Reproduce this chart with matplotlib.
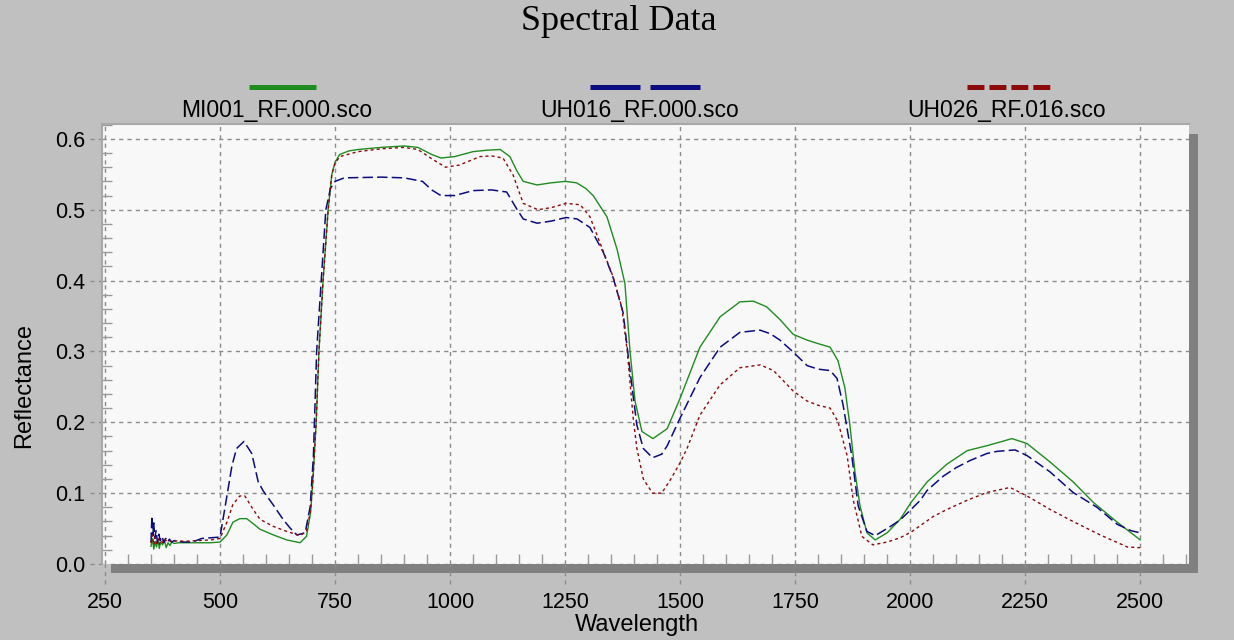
import numpy as np
import matplotlib.pyplot as plt
from matplotlib.lines import Line2D
from matplotlib.patches import Rectangle
from matplotlib.ticker import MultipleLocator

plt.rcParams['font.family'] = ['Liberation Sans', 'DejaVu Sans']
plt.rcParams['lines.scale_dashes'] = False

title = "Spectral Data"
series_names = ["MI001_RF.000.sco", "UH016_RF.000.sco", "UH026_RF.016.sco"]
x_ticks = [250, 500, 750, 1000, 1250, 1500, 1750, 2000, 2250, 2500]
y_ticks = [0.0, 0.1, 0.2, 0.3, 0.4, 0.5, 0.6]

# MI001 (green, solid)
mi001_wl = [350, 353, 356, 359, 362, 365, 368, 371, 375, 379, 383, 387, 391, 395, 400, 410,
            420, 450, 480, 500, 515, 528, 543, 558, 572, 587, 616, 645, 674, 688, 697,
            702, 709, 715, 724, 735, 743, 750, 760, 780, 800, 850, 900, 930, 960, 980,
            1010, 1050, 1080, 1109, 1130, 1145, 1159, 1189, 1220, 1250, 1275, 1295, 1311,
            1341, 1363, 1380, 1391, 1402, 1417, 1441, 1472, 1500, 1543, 1587, 1630, 1659,
            1688, 1717, 1746, 1776, 1800, 1826, 1843, 1858, 1869, 1880, 1891, 1906, 1924,
            1950, 1978, 2002, 2037, 2080, 2124, 2167, 2200, 2221, 2254, 2304, 2354, 2398,
            2450, 2500]
mi001_refl = [0.025, 0.036, 0.021, 0.032, 0.024, 0.035, 0.022, 0.031, 0.027, 0.034, 0.023,
              0.030, 0.026, 0.031, 0.029, 0.030, 0.030, 0.030, 0.030, 0.031, 0.041, 0.059,
              0.064, 0.064, 0.057, 0.049, 0.041, 0.034, 0.030, 0.039, 0.073, 0.12, 0.20,
              0.30, 0.40, 0.50, 0.55, 0.567, 0.578, 0.583, 0.585, 0.588, 0.590, 0.588,
              0.578, 0.573, 0.575, 0.582, 0.584, 0.585, 0.575, 0.555, 0.540, 0.535, 0.538,
              0.540, 0.538, 0.530, 0.520, 0.490, 0.444, 0.396, 0.301, 0.230, 0.187, 0.177,
              0.191, 0.234, 0.306, 0.349, 0.370, 0.371, 0.363, 0.345, 0.324, 0.316, 0.311,
              0.306, 0.287, 0.249, 0.196, 0.130, 0.082, 0.044, 0.034, 0.044, 0.063, 0.087,
              0.116, 0.141, 0.160, 0.167, 0.173, 0.177, 0.170, 0.144, 0.116, 0.087, 0.059,
              0.034]

# UH016 (navy, long dashes)
uh016_wl = [350, 352, 354, 356, 358, 361, 364, 367, 370, 374, 378, 382, 386, 390, 395, 400,
            410, 420, 440, 460, 480, 500, 515, 526, 536, 552, 569, 583, 594, 615, 637, 652,
            667, 685, 696, 703, 710, 720, 730, 740, 750, 770, 850, 900, 940, 960, 980, 1010,
            1050, 1090, 1123, 1145, 1159, 1189, 1220, 1252, 1276, 1304, 1333, 1354, 1376,
            1391, 1406, 1420, 1440, 1460, 1472, 1500, 1543, 1587, 1630, 1674, 1696, 1717,
            1746, 1776, 1800, 1826, 1841, 1854, 1873, 1887, 1906, 1924, 1957, 1978, 2002,
            2022, 2037, 2072, 2100, 2130, 2167, 2189, 2228, 2254, 2304, 2354, 2406, 2450,
            2480, 2500]
uh016_refl = [0.030, 0.068, 0.040, 0.058, 0.036, 0.047, 0.030, 0.042, 0.033, 0.039, 0.030,
              0.036, 0.031, 0.035, 0.031, 0.033, 0.032, 0.031, 0.031, 0.036, 0.037, 0.038,
              0.096, 0.139, 0.163, 0.173, 0.156, 0.116, 0.103, 0.084, 0.063, 0.051, 0.041,
              0.044, 0.081, 0.153, 0.300, 0.400, 0.500, 0.530, 0.540, 0.545, 0.546, 0.545,
              0.540, 0.528, 0.520, 0.520, 0.527, 0.528, 0.525, 0.501, 0.487, 0.481, 0.484,
              0.489, 0.487, 0.475, 0.440, 0.405, 0.355, 0.273, 0.196, 0.163, 0.150, 0.155,
              0.167, 0.206, 0.263, 0.306, 0.327, 0.330, 0.325, 0.316, 0.299, 0.280, 0.275,
              0.273, 0.262, 0.225, 0.153, 0.082, 0.046, 0.040, 0.053, 0.062, 0.077, 0.090,
              0.104, 0.124, 0.136, 0.146, 0.156, 0.159, 0.161, 0.153, 0.130, 0.101, 0.080,
              0.056, 0.047, 0.044]

# UH026 (dark red, short dashes)
uh026_wl = [350, 353, 356, 359, 362, 365, 368, 372, 376, 380, 385, 390, 395, 400, 410, 420,
            450, 480, 500, 515, 528, 543, 554, 572, 587, 616, 645, 674, 688, 697, 702, 709,
            715, 724, 735, 743, 750, 760, 800, 850, 900, 930, 960, 990, 1020, 1065, 1090,
            1115, 1137, 1159, 1191, 1220, 1252, 1283, 1304, 1326, 1354, 1373, 1385, 1398,
            1406, 1420, 1440, 1460, 1480, 1500, 1515, 1543, 1587, 1630, 1674, 1703, 1746,
            1776, 1800, 1826, 1843, 1863, 1876, 1895, 1919, 1950, 1978, 2002, 2050, 2080,
            2124, 2167, 2217, 2254, 2304, 2354, 2413, 2472, 2500]
uh026_refl = [0.030, 0.041, 0.027, 0.038, 0.029, 0.036, 0.028, 0.034, 0.030, 0.035, 0.031,
              0.033, 0.031, 0.032, 0.033, 0.032, 0.033, 0.034, 0.036, 0.059, 0.084, 0.096,
              0.096, 0.077, 0.063, 0.053, 0.046, 0.040, 0.046, 0.077, 0.12, 0.20, 0.30,
              0.40, 0.50, 0.55, 0.565, 0.575, 0.582, 0.586, 0.588, 0.585, 0.572, 0.560,
              0.563, 0.575, 0.576, 0.573, 0.549, 0.509, 0.500, 0.503, 0.509, 0.507, 0.490,
              0.453, 0.406, 0.363, 0.301, 0.206, 0.163, 0.120, 0.100, 0.100, 0.120, 0.143,
              0.163, 0.210, 0.253, 0.277, 0.281, 0.273, 0.244, 0.230, 0.224, 0.220, 0.201,
              0.153, 0.091, 0.039, 0.027, 0.031, 0.037, 0.045, 0.067, 0.077, 0.090, 0.101,
              0.108, 0.096, 0.077, 0.060, 0.041, 0.024, 0.023]

GREEN = '#1f8c1f'
NAVY = '#0c0c80'
RED = '#8c0a0a'

W, H = 1234, 640
fig = plt.figure(figsize=(W / 100, H / 100), dpi=100, facecolor='#c0c0c0')

def fx(px):
    return px / W

def fy(py):
    return 1 - py / H

# drop shadow behind the plot area
fig.add_artist(Rectangle((fx(111), fy(573)), fx(1198 - 111), (573 - 134) / H,
                         transform=fig.transFigure, facecolor='#808080',
                         edgecolor='none', zorder=0))

ax = fig.add_axes([fx(102), fy(564), fx(1189 - 102), (564 - 124) / H], zorder=1)
ax.set_facecolor('#f8f8f8')
ax.set_xlim(243.5, 2606)
ax.set_ylim(0, 0.621)

ax.plot(mi001_wl, mi001_refl, color=GREEN, lw=1.0, zorder=3)
ax.plot(uh016_wl, uh016_refl, color=NAVY, lw=1.1, dashes=(7.5, 3), zorder=3)
ax.plot(uh026_wl, uh026_refl, color=RED, lw=1.0, dashes=(2.2, 2.2), zorder=3)

ax.set_xticks(x_ticks)
ax.set_yticks(y_ticks)
ax.set_yticklabels([f"{v:.1f}" for v in y_ticks])
ax.xaxis.set_minor_locator(MultipleLocator(50))
ax.yaxis.set_minor_locator(MultipleLocator(0.02))
ax.tick_params(which='major', length=0, labelsize=15.5, colors='black')
ax.tick_params(axis='x', which='major', pad=20)
ax.tick_params(axis='y', which='major', pad=12)
ax.tick_params(which='minor', direction='in', length=7, width=1, color='#9a9a9a')
ax.grid(which='major', color='#8c8c8c', linestyle=(0, (3, 3)), linewidth=1)

for side in ['right', 'bottom']:
    ax.spines[side].set_visible(False)
for side in ['left', 'top']:
    ax.spines[side].set_color('#a8a8a8')
    ax.spines[side].set_linewidth(1.5)

# dashed tick extensions outside the plot
for t in x_ticks:
    ax.add_line(Line2D([t, t], [-0.045, 0], transform=ax.get_xaxis_transform(),
                       color='#8c8c8c', lw=1, linestyle=(0, (3, 3)), clip_on=False))
for t in y_ticks:
    ax.add_line(Line2D([-0.011, 0], [t, t], transform=ax.get_yaxis_transform(),
                       color='#8c8c8c', lw=1, linestyle=(0, (3, 3)), clip_on=False))

fig.text(fx(619), fy(22), title, family='Liberation Serif', fontsize=26,
         ha='center', va='center')
fig.text(fx(637), fy(625), "Wavelength", fontsize=17, ha='center', va='center')
fig.text(fx(24), fy(385), "Reflectance", fontsize=17, rotation=90,
         ha='center', va='center')

# legend: swatch above each label
legend_specs = [
    (series_names[0], GREEN, 249, 316, None, 277),
    (series_names[1], NAVY, 590, 700, (36, 7.2), 640),
    (series_names[2], RED, 967, 1050, (12.2, 3.6), 1007),
]
for name, color, x0, x1, dash, label_x in legend_specs:
    ln = Line2D([fx(x0), fx(x1)], [fy(87), fy(87)], transform=fig.transFigure,
                color=color, lw=3.6, solid_capstyle='butt', dash_capstyle='butt')
    if dash is not None:
        ln.set_dashes(dash)
    fig.add_artist(ln)
    fig.text(fx(label_x), fy(111), name, fontsize=16.5, ha='center', va='center')

fig.savefig("out.png", dpi=100, facecolor=fig.get_facecolor())
